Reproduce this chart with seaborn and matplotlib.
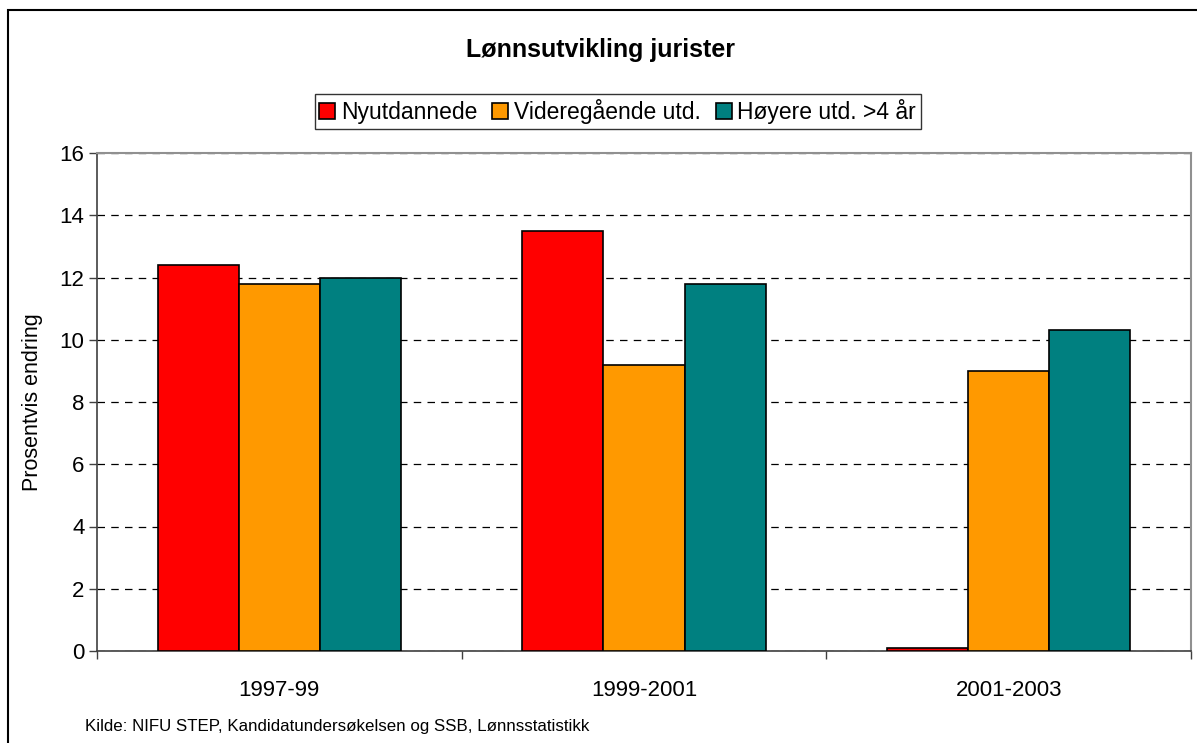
import numpy   as np
import pandas  as pd
import seaborn as sns

from matplotlib           import pyplot as plt
from matplotlib.patches   import Rectangle

# --- data ---
periods     = ['1997-99', '1999-2001', '2001-2003']
series      = ['Nyutdannede', 'Videregående utd.', 'Høyere utd. >4 år']
nyutdannede = [12.4, 13.5, 0.1]
videregaend = [11.8,  9.2, 9.0]
hoyere_utd  = [12.0, 11.8, 10.3]
colors      = ['#FF0000', '#FF9900', '#008080']

sns.set_theme(style="white")
plt.rcParams['font.family'] = ['Liberation Sans', 'DejaVu Sans']
plt.rcParams.update({'text.color'       : 'black',
                     'axes.labelcolor'  : 'black',
                     'xtick.color'      : 'black',
                     'ytick.color'      : 'black'})

df = pd.DataFrame({
    'Periode' : periods * 3,
    'Serie'   : np.repeat(series, len(periods)),
    'Endring' : nyutdannede + videregaend + hoyere_utd,
})

fig = plt.figure(figsize=(11.97, 7.43), dpi=100)
ax  = fig.add_axes([97/1197, 92/743, 1094/1197, 498/743])

sns.barplot(data=df, x='Periode', y='Endring', hue='Serie', order=periods,
            hue_order=series, palette=dict(zip(series, colors)), saturation=1,
            width=0.667, gap=0, edgecolor='black', linewidth=1.2, ax=ax,
            errorbar=None, zorder=3)

ax.set_ylim(0, 16)
ax.set_xlim(-0.5, 2.5)
ax.set_yticks(range(0, 17, 2))
ax.yaxis.grid(True, color='black', linestyle=(0, (6, 5)), linewidth=0.9)
ax.set_axisbelow(True)

ax.set_xlabel('')
ax.set_ylabel('Prosentvis endring', fontsize=15.5, labelpad=12)
ax.tick_params(axis='y', labelsize=16, length=6, width=1, color='#404040',
               direction='out', left=True, pad=3)
ax.tick_params(axis='x', which='major', labelsize=16, length=0, pad=21)
ax.set_xticks([-0.5, 0.5, 1.5, 2.5], minor=True)
ax.tick_params(axis='x', which='minor', length=6, width=1, color='#404040',
               direction='out', bottom=True)

for side in ['left', 'bottom']:
    ax.spines[side].set_color('#404040')
    ax.spines[side].set_linewidth(1.2)
for side in ['top', 'right']:
    ax.spines[side].set_color('#909090')
    ax.spines[side].set_linewidth(1.5)

handles, labels = ax.get_legend_handles_labels()
ax.get_legend().remove()
leg = fig.legend(handles, labels, loc='center', bbox_to_anchor=(0.516, 0.850),
                 ncol=3, fontsize=16.5, frameon=True, fancybox=False,
                 handlelength=0.7, handleheight=0.7, handletextpad=0.25,
                 columnspacing=0.65, borderpad=0.2, borderaxespad=0)
leg.get_frame().set_edgecolor('black')
leg.get_frame().set_linewidth(1)

fig.text(0.502, 1 - 50/743, 'Lønnsutvikling jurister', ha='center',
         va='center', fontsize=18, fontweight='bold')
fig.text(85/1197, 1 - 726/743,
         'Kilde: NIFU STEP, Kandidatundersøkelsen og SSB, Lønnsstatistikk',
         ha='left', va='center', fontsize=12.2)

# outer chart frame
fig.patches.append(Rectangle((8/1197, -0.05), 1.0, 1 - 10/743 + 0.05,
                             transform=fig.transFigure, fill=False,
                             edgecolor='black', linewidth=1.5))

fig.savefig('out.png', dpi=100)
